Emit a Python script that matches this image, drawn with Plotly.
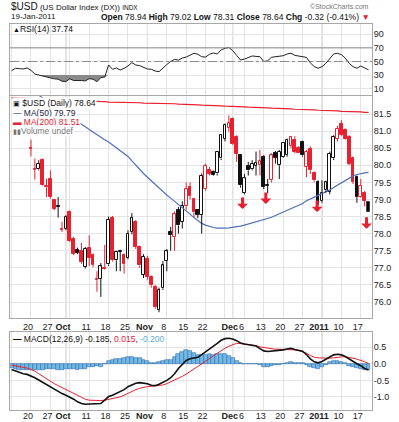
import plotly.graph_objects as go
import pandas as pd

# ---------------- data ----------------
ind_dates = pd.bdate_range("2010-09-13", "2011-01-19")   # indicator history shown (93 sessions)
px_dates = pd.bdate_range("2010-09-20", "2011-01-19")    # visible candles (88 sessions)

opens = [80.50, 79.88, 79.88, 80.15, 79.38, 79.61, 78.98, 78.82, 78.15, 78.15,
         78.63, 77.85, 77.53, 77.49, 77.02, 77.57, 77.38, 76.68, 76.68, 77.00,
         77.10, 78.45, 77.22, 77.47, 77.37, 77.30, 78.05, 78.34, 77.61, 76.80,
         77.27, 76.73, 76.44, 75.78, 76.40, 77.20, 78.05, 77.90, 78.68, 78.35,
         78.80, 79.37, 79.02, 78.68, 78.55, 79.30, 79.85, 79.80, 79.76, 80.20,
         80.78, 81.10, 81.34, 80.83, 80.29, 79.20, 79.98, 79.88, 79.98, 80.00,
         80.24, 79.40, 79.56, 80.35, 80.00, 80.24, 80.30, 80.56, 80.75, 80.52,
         80.68, 79.95, 80.49, 79.78, 79.51, 78.95, 79.27, 79.22, 80.20, 80.78,
         81.22, 81.02, 80.83, 80.20, 79.66, 79.07, 79.20, 78.94]
highs = [80.75, 80.20, 80.15, 80.20, 79.61, 79.85, 79.02, 79.07, 78.35, 78.54,
         78.68, 77.90, 77.59, 77.73, 77.61, 77.95, 77.42, 76.90, 77.14, 77.67,
         78.50, 78.52, 77.50, 77.53, 77.42, 78.10, 78.60, 78.40, 77.65, 77.40,
         77.35, 76.78, 76.50, 76.42, 77.20, 77.55, 78.20, 78.65, 78.78, 78.95,
         79.50, 79.50, 79.05, 78.72, 79.76, 80.05, 79.95, 79.85, 80.42, 80.90,
         81.22, 81.46, 81.40, 80.88, 80.32, 79.75, 80.10, 80.15, 80.40, 80.45,
         80.30, 79.60, 80.35, 80.42, 80.45, 80.68, 80.78, 80.86, 80.85, 80.56,
         80.72, 80.45, 80.55, 79.82, 79.56, 79.56, 79.55, 80.40, 80.88, 81.15,
         81.32, 81.08, 80.88, 80.25, 79.70, 79.60, 79.25, 79.02]
lows = [80.26, 79.58, 79.85, 79.39, 79.07, 79.02, 78.68, 78.47, 78.05, 78.10,
        77.76, 77.37, 77.40, 77.12, 76.98, 77.05, 77.02, 76.30, 76.15, 76.95,
        77.05, 77.18, 76.90, 76.90, 76.83, 77.25, 77.98, 77.55, 77.00, 76.70,
        76.65, 76.42, 75.80, 75.70, 76.35, 76.90, 77.50, 77.50, 78.00, 78.15,
        78.70, 79.00, 78.48, 78.45, 78.00, 79.25, 79.70, 79.70, 79.70, 80.15,
        80.70, 80.98, 80.60, 80.10, 79.35, 79.15, 79.70, 79.85, 79.70, 79.70,
        79.30, 79.18, 79.50, 80.05, 79.60, 80.22, 80.25, 80.50, 80.35, 80.36,
        80.25, 79.65, 79.75, 79.50, 78.83, 78.90, 79.20, 79.15, 80.15, 80.70,
        80.85, 80.75, 80.00, 79.45, 78.90, 79.05, 78.80, 78.31]
closes = [80.48, 79.86, 80.05, 79.41, 79.36, 79.07, 78.73, 78.78, 78.12, 78.49,
          77.79, 77.41, 77.44, 77.17, 77.56, 77.30, 77.08, 76.64, 77.04, 76.98,
          78.40, 77.22, 77.46, 77.50, 77.12, 78.00, 78.45, 77.61, 77.07, 77.32,
          76.73, 76.49, 75.85, 76.34, 77.07, 77.48, 77.95, 78.57, 78.24, 78.80,
          79.30, 79.10, 78.63, 78.55, 79.70, 79.98, 79.75, 79.73, 80.39, 80.88,
          81.17, 81.25, 80.63, 80.34, 79.41, 79.62, 79.85, 80.05, 80.08, 80.12,
          79.37, 79.42, 80.29, 80.22, 80.39, 80.65, 80.74, 80.82, 80.39, 80.37,
          80.29, 80.39, 79.85, 79.56, 78.88, 79.20, 79.50, 80.34, 80.83, 81.07,
          80.88, 80.78, 80.05, 79.51, 79.07, 79.39, 78.96, 78.64]
# 'r' = close below previous close (red), 'k' = close above previous close (black)
day_color = list("rrkrrrrkrkrrkrkrrrkrkrkkrkkrrkrrrkkkkrkkrrrkkrrkkkkrrrkkkkkrkkrkkkkrrrkrrrkkkkkrrrrrkrr")

ma50 = [82.60, 82.52, 82.45, 82.37, 82.29, 82.21, 82.13, 82.05, 81.97, 81.89,
        81.81, 81.73, 81.65, 81.57, 81.50, 81.43, 81.36, 81.29, 81.21, 81.13,
        81.05, 80.97, 80.89, 80.82, 80.75, 80.68, 80.60, 80.51, 80.42, 80.34,
        80.26, 80.13, 80.00, 79.87, 79.76, 79.65, 79.54, 79.43, 79.33, 79.23,
        79.13, 79.04, 78.95, 78.86, 78.77, 78.67, 78.57, 78.47, 78.38, 78.30,
        78.25, 78.21, 78.18, 78.16, 78.15, 78.16, 78.17, 78.18, 78.20, 78.22,
        78.25, 78.28, 78.31, 78.34, 78.37, 78.40, 78.44, 78.48, 78.53, 78.58,
        78.63, 78.70, 78.75, 78.80, 78.84, 78.88, 78.96, 79.02, 79.07, 79.12,
        79.17, 79.22, 79.28, 79.35, 79.42, 79.50, 79.57, 79.64, 79.69, 79.73,
        79.76, 79.78, 79.79]
ma200 = [81.97, 81.97, 81.96, 81.96, 81.95, 81.95, 81.94, 81.94, 81.93, 81.93,
         81.92, 81.92, 81.91, 81.91, 81.90, 81.90, 81.89, 81.89, 81.88, 81.88,
         81.87, 81.87, 81.86, 81.86, 81.86, 81.85, 81.85, 81.85, 81.84, 81.84,
         81.84, 81.83, 81.83, 81.83, 81.82, 81.82, 81.82, 81.81, 81.81, 81.81,
         81.80, 81.80, 81.80, 81.79, 81.79, 81.78, 81.78, 81.77, 81.77, 81.76,
         81.76, 81.75, 81.75, 81.74, 81.74, 81.73, 81.73, 81.72, 81.72, 81.71,
         81.71, 81.70, 81.70, 81.69, 81.69, 81.68, 81.68, 81.67, 81.67, 81.66,
         81.66, 81.65, 81.65, 81.64, 81.64, 81.63, 81.63, 81.62, 81.62, 81.61,
         81.61, 81.60, 81.60, 81.59, 81.59, 81.58, 81.58, 81.57, 81.57, 81.56,
         81.56, 81.55, 81.55]
rsi = [36.5, 40.0, 39.5, 39.0, 40.5, 37.0, 31.5, 30.0, 28.5, 27.5,
       26.5, 24.5, 24.0, 21.0, 20.5, 24.5, 22.0, 22.5, 22.0, 21.5,
       24.7, 24.0, 20.3, 26.5, 27.0, 44.9, 38.5, 40.5, 37.5, 40.0,
       43.4, 48.3, 44.9, 43.9, 40.9, 39.0, 38.5, 36.0, 35.0, 41.0,
       45.5, 50.0, 53.0, 52.0, 55.0, 56.5, 59.6, 62.1, 60.6, 57.0,
       56.5, 60.6, 62.5, 61.0, 67.0, 69.4, 70.5, 66.0, 59.0, 52.2,
       53.5, 56.2, 58.1, 57.5, 57.1, 50.0, 51.0, 56.2, 57.0, 57.5,
       58.5, 61.0, 62.1, 59.0, 58.0, 56.2, 56.0, 48.0, 42.5, 40.0,
       42.4, 47.3, 54.0, 61.0, 62.1, 60.0, 55.0, 47.3, 42.4, 40.0,
       43.4, 40.5, 37.74]
macd = [-0.17, -0.22, -0.27, -0.30, -0.32, -0.36, -0.42, -0.49, -0.56, -0.63,
        -0.70, -0.77, -0.84, -0.90, -0.95, -1.00, -1.07, -1.15, -1.20, -1.22,
        -1.21, -1.20, -1.19, -1.20, -1.10, -0.99, -0.95, -0.89, -0.85, -0.78,
        -0.69, -0.63, -0.59, -0.57, -0.58, -0.60, -0.65, -0.66, -0.62, -0.57,
        -0.50, -0.42, -0.30, -0.14, -0.02, 0.10, 0.15, 0.18, 0.20, 0.28,
        0.36, 0.45, 0.52, 0.62, 0.71, 0.76, 0.77, 0.75, 0.70, 0.63,
        0.60, 0.58, 0.57, 0.54, 0.46, 0.39, 0.37, 0.38, 0.39, 0.41,
        0.42, 0.45, 0.47, 0.43, 0.41, 0.38, 0.28, 0.15, 0.06, 0.03,
        0.07, 0.14, 0.21, 0.27, 0.29, 0.27, 0.22, 0.14, 0.06, 0.00,
        -0.06, -0.14, -0.185]
signal = [-0.04, -0.06, -0.08, -0.10, -0.13, -0.17, -0.22, -0.30, -0.38, -0.46,
          -0.54, -0.60, -0.66, -0.72, -0.78, -0.84, -0.90, -0.97, -1.03, -1.07,
          -1.10, -1.11, -1.11, -1.11, -1.10, -1.08, -1.06, -1.03, -1.00, -0.95,
          -0.89, -0.83, -0.78, -0.74, -0.71, -0.69, -0.68, -0.67, -0.67, -0.64,
          -0.60, -0.55, -0.50, -0.45, -0.38, -0.31, -0.24, -0.16, -0.08, 0.00,
          0.09, 0.16, 0.24, 0.32, 0.40, 0.47, 0.53, 0.58, 0.62, 0.61,
          0.60, 0.58, 0.57, 0.55, 0.51, 0.49, 0.46, 0.44, 0.44, 0.44,
          0.44, 0.43, 0.42, 0.42, 0.40, 0.37, 0.32, 0.25, 0.20, 0.18,
          0.17, 0.17, 0.17, 0.18, 0.20, 0.21, 0.21, 0.20, 0.17, 0.14,
          0.11, 0.06, 0.015]
hist = [-0.13, -0.16, -0.19, -0.20, -0.19, -0.19, -0.20, -0.19, -0.18, -0.17,
        -0.16, -0.17, -0.18, -0.18, -0.17, -0.16, -0.17, -0.18, -0.17, -0.15,
        -0.11, -0.09, -0.08, -0.09, 0.00, 0.09, 0.11, 0.14, 0.15, 0.17,
        0.20, 0.20, 0.19, 0.17, 0.13, 0.09, 0.03, 0.01, 0.05, 0.07,
        0.10, 0.13, 0.20, 0.31, 0.36, 0.41, 0.39, 0.34, 0.28, 0.28,
        0.27, 0.29, 0.28, 0.30, 0.31, 0.29, 0.24, 0.17, 0.08, 0.02,
        0.00, 0.00, 0.00, -0.01, -0.05, -0.10, -0.09, -0.06, -0.05, -0.03,
        -0.02, 0.02, 0.05, 0.01, 0.01, 0.01, -0.04, -0.10, -0.14, -0.15,
        -0.10, -0.03, 0.04, 0.09, 0.09, 0.06, 0.01, -0.06, -0.11, -0.14,
        -0.17, -0.20, -0.20]

tick_dates = ["2010-09-20", "2010-09-27", "2010-10-01", "2010-10-11", "2010-10-18",
              "2010-10-25", "2010-11-01", "2010-11-08", "2010-11-15", "2010-11-22",
              "2010-12-01", "2010-12-06", "2010-12-13", "2010-12-20", "2010-12-27",
              "2011-01-03", "2011-01-10", "2011-01-17"]
tick_text = ["20", "27", "<b>Oct</b>", "11", "18", "25", "<b>Nov</b>", "8", "15", "22",
             "<b>Dec</b>", "6", "13", "20", "27", "<b>2011</b>", "10", "17"]
month_dates = ["2010-10-01", "2010-11-01", "2010-12-01", "2011-01-03"]

arrow_dates = ["2010-12-03", "2010-12-13", "2010-12-31", "2011-01-19"]
arrow_tips = [78.72, 78.87, 78.63, 78.14]
arrow_shift = [2, 2, -1, -2]

price_ticks = [76.0, 76.5, 77.0, 77.5, 78.0, 78.5, 79.0, 79.5, 80.0, 80.5, 81.0, 81.5]
rsi_ticks = [10, 30, 50, 70, 90]
macd_ticks = [-1.0, -0.5, 0.0, 0.5]
macd_tick_text = ["-1.0", "-0.5", "0.0", "0.5"]

# ---------------- geometry ----------------
W, H = 399, 422
L, R, T, B = 10, 27, 24, 410
RED = "#e8202f"
BLACK = "#111111"
GRID = "#e4e4e4"
MONTH = "#bdbdbd"
FONT = "Liberation Sans"

pos = {d: k - 5 for k, d in enumerate(ind_dates)}
xi = [pos[d] for d in ind_dates]
xc = [pos[d] for d in px_dates]
ticks_x = [pos[pd.Timestamp(d)] for d in tick_dates]
mondays = [pos[d] for d in ind_dates if d.weekday() == 0]
month_x = [pos[pd.Timestamp(d)] for d in month_dates]
XR = [-5.41, 87.89]


def pxx(x):
    return (x - L) / (W - L - R)


def pxy(y):
    return (B - y) / (B - T)


fig = go.Figure()

# ---- RSI panel ----
fig.add_trace(go.Scatter(x=xi, y=[30] * len(xi), mode="lines", line=dict(width=0),
                         xaxis="x", yaxis="y", hoverinfo="skip"))
fig.add_trace(go.Scatter(x=xi, y=[min(v, 30) for v in rsi], mode="lines", line=dict(width=0),
                         fill="tonexty", fillcolor="#8a8a8a", xaxis="x", yaxis="y", hoverinfo="skip"))
fig.add_trace(go.Scatter(x=xi, y=rsi, mode="lines", line=dict(color="#222222", width=1),
                         xaxis="x", yaxis="y"))

# ---- price panel ----
fig.add_trace(go.Scatter(x=xi, y=ma200, mode="lines", line=dict(color=RED, width=1.2),
                         xaxis="x2", yaxis="y2"))
fig.add_trace(go.Scatter(x=xi, y=ma50, mode="lines", line=dict(color="#4d70b8", width=1.2),
                         xaxis="x2", yaxis="y2"))

edge = [RED if c == "r" else BLACK for c in day_color]
fillc = ["white" if cl > op else e for op, cl, e in zip(opens, closes, edge)]
base = [min(o, c) for o, c in zip(opens, closes)]
height = [max(abs(c - o), 0.012) for o, c in zip(opens, closes)]
fig.add_trace(go.Bar(x=xc, y=height, base=base, width=0.7,
                     marker=dict(color=fillc, line=dict(color=edge, width=1)),
                     xaxis="x2", yaxis="y2"))

for flag, col in (("r", RED), ("k", BLACK)):
    wx, wy = [], []
    for x, o, h, lo, c, f in zip(xc, opens, highs, lows, closes, day_color):
        if f != flag:
            continue
        top, bot = max(o, c), min(o, c)
        wx += [x, x, None, x, x, None]
        wy += [h, top, None, bot, lo, None]
    fig.add_trace(go.Scatter(x=wx, y=wy, mode="lines", line=dict(color=col, width=1),
                             xaxis="x2", yaxis="y2", hoverinfo="skip"))

# ---- MACD panel ----
fig.add_trace(go.Bar(x=xi, y=hist, width=1.0,
                     marker=dict(color="#74b8e6", line=dict(color="#2f6eae", width=0.6)),
                     xaxis="x3", yaxis="y3"))
fig.add_trace(go.Scatter(x=xi, y=signal, mode="lines", line=dict(color=RED, width=1),
                         xaxis="x3", yaxis="y3"))
fig.add_trace(go.Scatter(x=xi, y=macd, mode="lines", line=dict(color=BLACK, width=1.6),
                         xaxis="x3", yaxis="y3"))

# ---- axes ----
axfont = dict(family=FONT, size=9, color="#222222")
xcommon = dict(range=XR, tickmode="array", tickvals=ticks_x, ticktext=tick_text,
               showgrid=True, gridcolor=GRID, gridwidth=1, zeroline=False,
               showline=True, linecolor="#a8a8a8", mirror=True, ticks="",
               tickfont=axfont, tickangle=0, ticklabelshift=-3, automargin=False,
               minor=dict(tickmode="array", tickvals=mondays, showgrid=True,
                          gridcolor=GRID, gridwidth=1))
ycommon = dict(side="right", showgrid=True, gridcolor=GRID, gridwidth=1, zeroline=False,
               showline=True, linecolor="#a8a8a8", mirror=True, ticks="",
               tickfont=axfont, automargin=False, ticklabelstandoff=-1)

fig.update_layout(
    width=W, height=H, margin=dict(l=L, r=R, t=T, b=H - B, pad=0),
    paper_bgcolor="white", plot_bgcolor="white", template="none",
    showlegend=False, barmode="overlay", bargap=0,
    xaxis=dict(xcommon, anchor="y", domain=[0, 1], showticklabels=False),
    xaxis2=dict(xcommon, anchor="y2", domain=[0, 1], matches="x", showticklabels=True),
    xaxis3=dict(xcommon, anchor="y3", domain=[0, 1], matches="x", showticklabels=True,
                ticklabelstandoff=-3),
    yaxis=dict(ycommon, domain=[pxy(95), 1.0], range=[0.74, 105.1],
               tickmode="array", tickvals=rsi_ticks),
    yaxis2=dict(ycommon, domain=[pxy(318), pxy(96)], range=[75.532, 82.027],
                tickmode="array", tickvals=price_ticks, tickformat=".1f"),
    yaxis3=dict(ycommon, domain=[0, pxy(332)], range=[-1.396, 0.961],
                tickmode="array", tickvals=macd_ticks, ticktext=macd_tick_text),
)

shapes = []
for mx in month_x:
    for xa, ya in (("x", "y domain"), ("x2", "y2 domain"), ("x3", "y3 domain")):
        shapes.append(dict(type="line", xref=xa, yref=ya, x0=mx, x1=mx, y0=0, y1=1,
                           line=dict(color=MONTH, width=1), layer="below"))
shapes.append(dict(type="line", xref="x domain", yref="y", x0=0, x1=1, y0=70, y1=70,
                   line=dict(color="#8c8c8c", width=1)))
shapes.append(dict(type="line", xref="x domain", yref="y", x0=0, x1=1, y0=50, y1=50,
                   line=dict(color="#8c8c8c", width=1, dash="dashdot")))
fig.update_layout(shapes=shapes)

ann = []
# red down arrows drawn on the price panel
for d, tip, sh in zip(arrow_dates, arrow_tips, arrow_shift):
    ann.append(dict(x=pos[pd.Timestamp(d)], y=tip, xref="x2", yref="y2", text="",
                    showarrow=True, ax=0, ay=-13, arrowhead=1, arrowsize=0.6,
                    arrowwidth=3, arrowcolor=RED, xshift=sh))


def label(x, y, text, size=9, color="#111111", anchor="left"):
    ann.append(dict(x=pxx(x), y=pxy(y), xref="paper", yref="paper", text=text,
                    showarrow=False, xanchor=anchor, yanchor="middle",
                    font=dict(family=FONT, size=size, color=color)))


label(9, 6, '<span style="font-size:10px">$USD</span> (US Dollar Index (DX)) '
      '<span style="font-size:6.5px">INDX</span>', size=8)
label(371, 6, "©StockCharts.com", size=7, color="#777777", anchor="right")
label(9, 17, "19-Jan-2011", size=8)
label(372, 17, f"<b>Open</b> {opens[-1]:.2f} <b>High</b> {highs[-1]:.2f} <b>Low</b> {lows[-1]:.2f} "
      f"<b>Close</b> {closes[-1]:.2f} <b>Chg</b> {closes[-1]-closes[-2]:.2f} "
      f"({(closes[-1]-closes[-2])/closes[-2]*100:.2f}%) <span style='color:{RED}'>▼</span>",
      size=8.5, anchor="right")
label(11, 29, f'<span style="font-size:7px">▲</span>RSI(14) {rsi[-1]:.2f}', size=8.5)

leg = [
    (f'<span style="font-size:7px">▣</span> $USD (Daily) {closes[-1]:.2f}', "#111111"),
    (f'<span style="color:#223366">—</span> MA(50) {ma50[-1]:.2f}', "#222244"),
    (f'▬ MA(200) {81.51:.2f}', RED),
    ('<span style="font-size:7px">▮▮</span>Volume undef', "#777777"),
]
for k, (t, c) in enumerate(leg):
    ann.append(dict(x=pxx(12), y=pxy(103.5 + 9 * k), xref="paper", yref="paper", text=t,
                    showarrow=False, xanchor="left", yanchor="middle", bgcolor="white",
                    borderpad=0, font=dict(family=FONT, size=8.5, color=c)))

label(11, 339, f"<b>—</b> MACD(12,26,9) {macd[-1]:.3f}, "
      f"<span style='color:{RED}'>{signal[-1]:.3f}</span>, "
      f"<span style='color:#5aaee0'>{hist[-1]:.3f}</span>", size=8.5)

fig.update_layout(annotations=ann)
fig.write_html("out.html", config={"displayModeBar": False},
               post_script="document.body.style.margin='0px';document.body.style.overflow='hidden';")
